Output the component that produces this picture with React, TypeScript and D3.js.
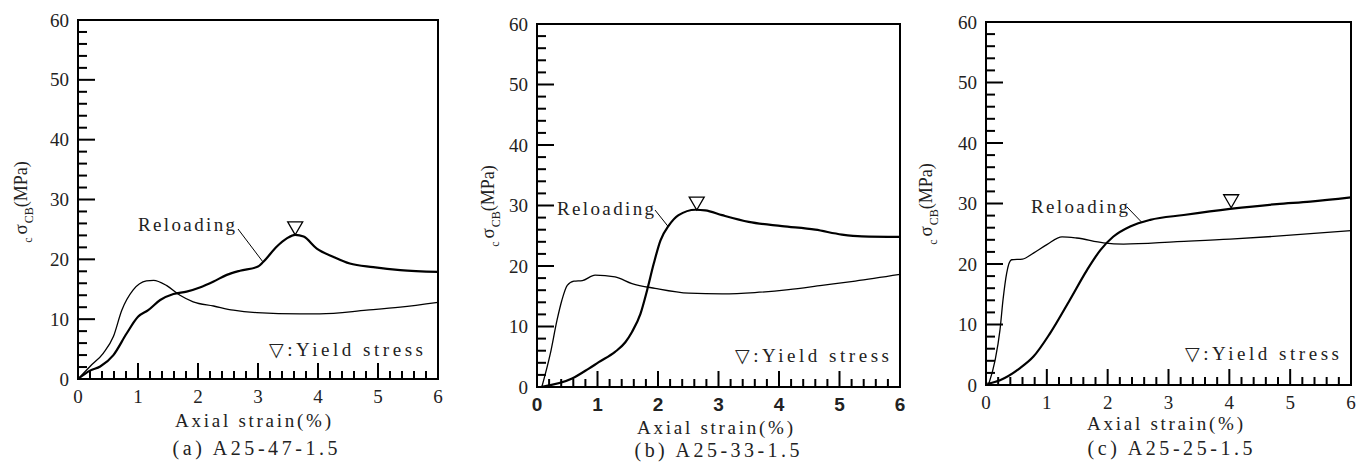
import React from 'react';
import * as d3 from 'd3';

const W = 1366;
const H = 470;

const strainMajor = [0, 1, 2, 3, 4, 5, 6];
const stressMajor = [0, 10, 20, 30, 40, 50, 60];

const reloadA_x = [0, 0.2, 0.37, 0.59, 0.81, 1.0, 1.17, 1.37, 1.59, 1.81, 2.03, 2.26, 2.48, 2.7, 3.0, 3.09, 3.31, 3.48, 3.62, 3.76, 3.98, 4.26, 4.53, 4.92, 5.37, 6.0];
const reloadA_y = [0, 1.4, 2.1, 4.0, 7.6, 10.4, 11.5, 13.2, 14.2, 14.6, 15.3, 16.3, 17.4, 18.1, 18.8, 19.6, 22.1, 23.5, 24.1, 23.8, 21.8, 20.4, 19.3, 18.7, 18.2, 17.9];
const virginA_x = [0, 0.2, 0.42, 0.59, 0.73, 0.92, 1.14, 1.26, 1.48, 1.7, 1.92, 2.26, 2.59, 2.98, 3.7, 4.03, 4.81, 5.37, 6.0];
const virginA_y = [0, 2.1, 4.3, 7.1, 11.5, 14.9, 16.4, 16.5, 15.6, 14.0, 12.9, 12.2, 11.5, 11.1, 10.9, 10.9, 11.5, 12.0, 12.8];

const reloadB_x = [0.06, 0.58, 0.85, 1.02, 1.29, 1.46, 1.57, 1.71, 1.82, 1.93, 2.04, 2.18, 2.34, 2.62, 2.78, 3.06, 3.5, 4.05, 4.6, 5.04, 5.37, 6.0];
const reloadB_y = [0, 1.4, 3.0, 4.1, 5.8, 7.4, 9.1, 12.1, 16.0, 20.4, 24.2, 26.7, 28.4, 29.3, 29.2, 28.4, 27.3, 26.6, 26.0, 25.2, 24.9, 24.8];
const virginB_x = [0.08, 0.22, 0.33, 0.41, 0.5, 0.61, 0.75, 0.96, 1.29, 1.57, 1.95, 2.51, 3.06, 3.6, 4.16, 4.71, 5.26, 6.0];
const virginB_y = [0, 5.5, 11.0, 14.3, 16.8, 17.5, 17.6, 18.5, 18.2, 17.1, 16.3, 15.5, 15.4, 15.6, 16.1, 16.8, 17.5, 18.6];

const reloadC_x = [0.02, 0.23, 0.56, 0.78, 1.05, 1.38, 1.66, 1.88, 2.09, 2.37, 2.7, 3.25, 4.01, 4.78, 5.33, 6.0];
const reloadC_y = [0.2, 0.8, 2.8, 4.7, 8.5, 14.1, 19.0, 22.3, 24.5, 26.2, 27.3, 28.1, 29.1, 29.9, 30.3, 31.0];
const virginC_x = [0.04, 0.15, 0.23, 0.28, 0.34, 0.42, 0.6, 0.78, 1.0, 1.25, 1.49, 1.93, 2.26, 3.14, 4.01, 4.78, 6.0];
const virginC_y = [0, 4.1, 9.1, 14.1, 18.5, 20.7, 20.8, 21.8, 23.2, 24.5, 24.3, 23.5, 23.3, 23.7, 24.1, 24.6, 25.5];

const yieldA = [3.62, 24.1];
const yieldB = [2.64, 29.25];
const yieldC = [4.03, 29.3];

const leaderA = [3.08, 19.6];
const leaderB = [2.17, 26.5];
const leaderC = [2.56, 26.9];

const captions = ['(a) A25-47-1.5', '(b) A25-33-1.5', '(c) A25-25-1.5'];
const xLabel = 'Axial strain(%)';
const reloadLabel = 'Reloading';
const yieldLabel = '\u25BD:Yield stress';

const SERIF = "'Liberation Serif', 'DejaVu Serif', serif";
const SANS = "'Liberation Sans', Arial, sans-serif";

const panels = [
  {
    x0: 78, x1: 438, yb: 379, yt: 20,
    rx: reloadA_x, ry: reloadA_y, vx: virginA_x, vy: virginA_y,
    yld: yieldA, lead: leaderA,
    relLab: [138, 231], leadStart: [238, 229], yldLab: [269, 356],
    yLabX: 27, yLabY: 202, xLabY: 427, capY: 455, capX: 255, xLabX: 253,
    xTickFont: SERIF, xTickBold: false, caption: captions[0],
  },
  {
    x0: 537, x1: 900, yb: 387, yt: 24,
    rx: reloadB_x, ry: reloadB_y, vx: virginB_x, vy: virginB_y,
    yld: yieldB, lead: leaderB,
    relLab: [557, 215], leadStart: [655, 210], yldLab: [735, 362],
    yLabX: 494, yLabY: 206, xLabY: 434, capY: 457, capX: 717, xLabX: 715,
    xTickFont: SANS, xTickBold: true, caption: captions[1],
  },
  {
    x0: 986, x1: 1351, yb: 385, yt: 22,
    rx: reloadC_x, ry: reloadC_y, vx: virginC_x, vy: virginC_y,
    yld: yieldC, lead: leaderC,
    relLab: [1031, 213], leadStart: [1127, 207], yldLab: [1185, 360],
    yLabX: 932, yLabY: 204, xLabY: 430, capY: 455, capX: 1170, xLabX: 1165,
    xTickFont: SERIF, xTickBold: false, caption: captions[2],
  },
];

const serifStyle = (size: number) => ({ fontFamily: SERIF, fontSize: size + 'px', fill: '#222' });

function Panel({ p }: { p: any }) {
  const x = d3.scaleLinear().domain([0, 6]).range([p.x0, p.x1]);
  const y = d3.scaleLinear().domain([0, 60]).range([p.yb, p.yt]);
  const mk = (xs: number[], ys: number[]) =>
    d3
      .line<[number, number]>()
      .x((d) => x(d[0]))
      .y((d) => y(d[1]))
      .curve(d3.curveMonotoneX)(xs.map((v, i) => [v, ys[i]] as [number, number])) || '';

  const xMinor = d3.range(0, 61, 2).map((v) => v / 10).filter((v) => v > 0 && v < 6);
  const yMinor = d3.range(2, 60, 2);

  const ax = x(p.yld[0]);
  const ay = y(p.yld[1]);
  const tri = `M${ax},${ay} L${ax - 7.5},${ay - 13} L${ax + 7.5},${ay - 13} Z`;

  return (
    <g>
      {xMinor.map((v) => {
        const major = Math.abs(v - Math.round(v)) < 1e-6;
        return (
          <line key={'xt' + v} x1={x(v)} x2={x(v)} y1={p.yb} y2={p.yb - (major ? 16 : 8)} stroke="#000" strokeWidth={2} />
        );
      })}
      {yMinor.map((v) => {
        const major = v % 10 === 0;
        return (
          <line key={'yt' + v} x1={p.x0} x2={p.x0 + (major ? 17 : 9)} y1={y(v)} y2={y(v)} stroke="#000" strokeWidth={2} />
        );
      })}
      <rect x={p.x0} y={p.yt} width={p.x1 - p.x0} height={p.yb - p.yt} fill="none" stroke="#000" strokeWidth={2} />

      {stressMajor.map((v) => (
        <text key={'yl' + v} x={p.x0 - 9} y={y(v)} dy="0.35em" textAnchor="end" style={serifStyle(19)}>
          {v}
        </text>
      ))}
      {strainMajor.map((v) => (
        <text
          key={'xl' + v}
          x={x(v)}
          y={p.yb + 24}
          textAnchor="middle"
          style={{
            fontFamily: p.xTickFont,
            fontWeight: p.xTickBold ? 'bold' : 'normal',
            fontSize: '19px',
            fill: '#222',
          }}
        >
          {v}
        </text>
      ))}

      <path d={mk(p.vx, p.vy)} fill="none" stroke="#000" strokeWidth={1.3} />
      <path d={mk(p.rx, p.ry)} fill="none" stroke="#000" strokeWidth={2.2} />

      <path d={tri} fill="none" stroke="#000" strokeWidth={1.3} />

      <text x={p.relLab[0]} y={p.relLab[1]} style={serifStyle(19)} textLength={97} lengthAdjust="spacing">
        {reloadLabel}
      </text>
      <line x1={p.leadStart[0]} y1={p.leadStart[1]} x2={x(p.lead[0])} y2={y(p.lead[1])} stroke="#000" strokeWidth={1} />

      <text x={p.yldLab[0]} y={p.yldLab[1]} style={serifStyle(19)} textLength={154} lengthAdjust="spacing">
        {yieldLabel}
      </text>

      <text x={p.xLabX} y={p.xLabY} textAnchor="middle" style={serifStyle(19)} textLength={156} lengthAdjust="spacing">
        {xLabel}
      </text>
      <text x={p.capX} y={p.capY} textAnchor="middle" style={serifStyle(20)} textLength={165} lengthAdjust="spacing">
        {p.caption}
      </text>

      <text transform={`translate(${p.yLabX},${p.yLabY}) rotate(-90)`} textAnchor="middle" style={{ fontFamily: SERIF, fill: '#222' }}>
        <tspan style={{ fontSize: '12px' }} dy={5}>c</tspan>
        <tspan style={{ fontSize: '19px' }} dy={-5} dx={3}>σ</tspan>
        <tspan style={{ fontSize: '12px' }} dy={6} dx={1}>CB</tspan>
        <tspan style={{ fontSize: '18px' }} dy={-6}>(MPa)</tspan>
      </text>
    </g>
  );
}

export default function App() {
  return (
    <svg width={W} height={H} style={{ position: 'absolute', left: 0, top: 0, background: '#fff' }}>
      <rect x={0} y={0} width={W} height={H} fill="#fff" />
      {panels.map((p, i) => (
        <Panel key={i} p={p} />
      ))}
    </svg>
  );
}
